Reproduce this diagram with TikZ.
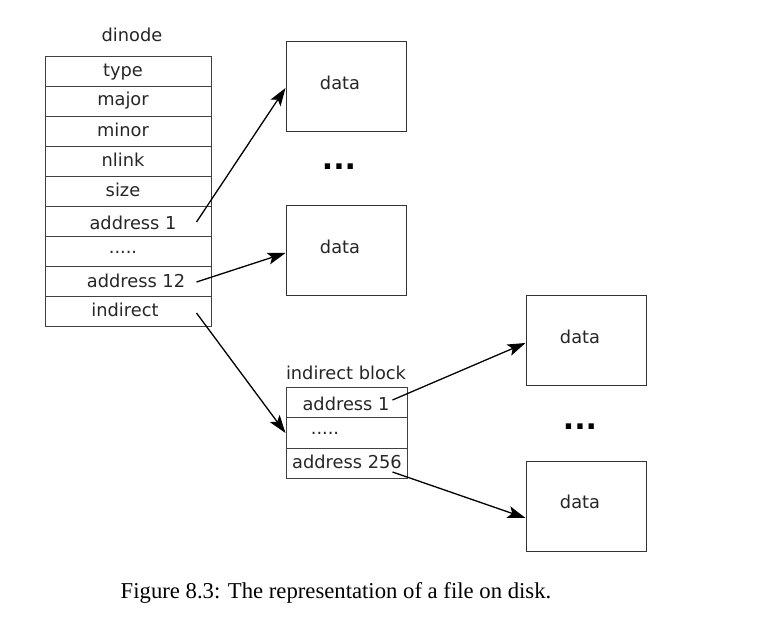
\documentclass[tikz,border=0pt]{standalone}
\usepackage{fontspec}
\setmainfont{DejaVu Sans}
\newfontfamily\capfont{Liberation Serif}
\usetikzlibrary{arrows.meta,calc}
\begin{document}
\begin{tikzpicture}[x=1pt,y=-1pt,
  cell/.style={draw=black!75,line width=1pt,rectangle,minimum width=166pt,minimum height=30pt,inner sep=0pt},
  icell/.style={draw=black!75,line width=1pt,rectangle,minimum width=121pt,minimum height=30pt,inner sep=0pt},
  databox/.style={draw=black!80,line width=1pt,rectangle,minimum width=120pt,minimum height=90pt,inner sep=0pt},
  txt/.style={font=\fontsize{17.8}{20}\selectfont,inner sep=0pt,anchor=center,text=black!85},
  dots/.style={font=\fontsize{30}{30}\selectfont\bfseries,inner sep=0pt},
  ptr/.style={line width=1.3pt,-{Stealth[length=18pt,width=12pt,inset=4pt]}}
]
\useasboundingbox (0,0) rectangle (769,620);
% dinode table
\node[txt] (title) at (132,35) {dinode};
\foreach \i in {1,...,9} {
  \node[cell] (r\i) at (128,{57+30*\i-15}) {};
}
\node[txt] (t1) at (123,72) {type};
\node[txt] (t2) at (123,101) {major};
\node[txt] (t3) at (123,130) {minor};
\node[txt] (t4) at (123,160) {nlink};
\node[txt] (t5) at (123,190) {size};
\node[txt] (t6) at (133,223) {address 1};
\node[txt] (t7) at (123,252) {.....};
\node[txt] (t8) at (136,281) {address 12};
\node[txt] (t9) at (125,310) {indirect};
% data boxes top
\node[databox] (d1) at (346,87) {};
\node[txt] (dt1) at (340,83) {data};
\node[dots] (dd1) at (339,167) {...};
\node[databox] (d2) at (346,251) {};
\node[txt] (dt2) at (340,247) {data};
% indirect block
\node[txt] (ititle) at (346,373) {indirect block};
\node[icell] (i1) at (346.5,403) {};
\node[icell] (i2) at (346.5,433) {};
\node[icell] (i3) at (346.5,463) {};
\node[txt] (it1) at (346,404) {address 1};
\node[txt] (it2) at (325,433) {.....};
\node[txt] (it3) at (347,462) {address 256};
% right data boxes
\node[databox] (d3) at (586,341) {};
\node[txt] (dt3) at (580,337) {data};
\node[dots] (dd2) at (580,427) {...};
\node[databox] (d4) at (586,506.5) {};
\node[txt] (dt4) at (580,502) {data};
% connectors
\coordinate (s1) at ($(r6.east)+(-15,0)$);
\coordinate (s2) at ($(r8.east)+(-15,0)$);
\coordinate (s3) at ($(r9.east)+(-15,1)$);
\coordinate (s4) at ($(i1.east)+(-15,-3)$);
\coordinate (s5) at ($(i3.east)+(-15,9)$);
\draw[ptr] (s1) -- ($(d1.west)+(0,1)$);
\draw[ptr] (s2) -- ($(d2.west)+(0,2)$);
\draw[ptr] (s3) -- (i2.west);
\draw[ptr] (s4) -- ($(d3.west)+(0,2)$);
\draw[ptr] (s5) -- ($(d4.west)+(0,11.5)$);
% caption
\node[font=\capfont\fontsize{22.7}{25}\selectfont,inner sep=0pt] (cap) at (336,593) {Figure 8.3: The representation of a file on disk.};
\end{tikzpicture}
\end{document}
